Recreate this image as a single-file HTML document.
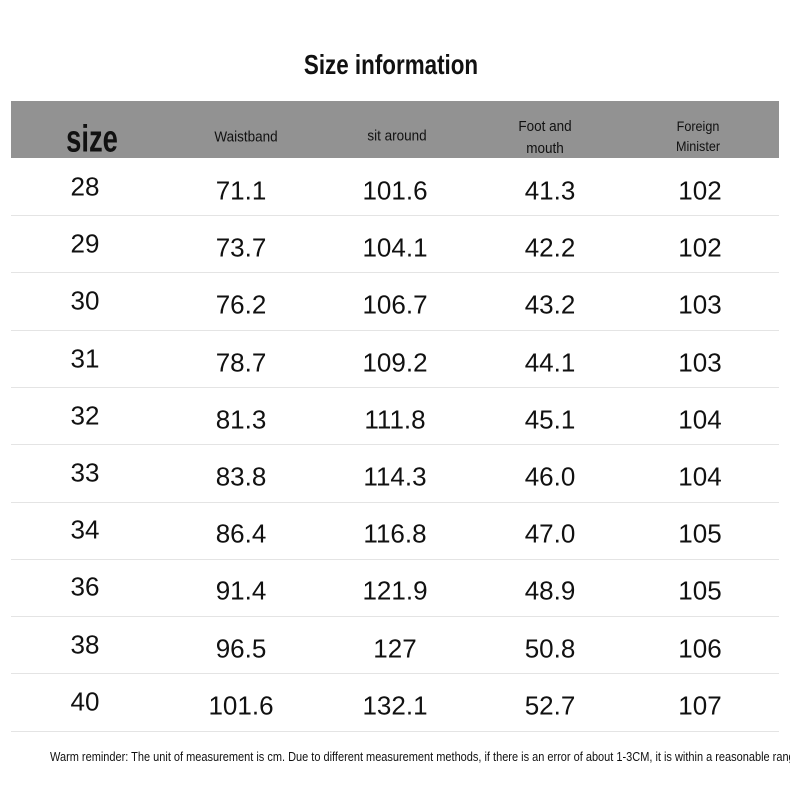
<!DOCTYPE html>
<html><head><style>
body{margin:0;width:790px;height:798px;background:#fff;position:relative;overflow:hidden;font-family:"Liberation Sans",sans-serif;color:#111}
.t{position:absolute;transform:translate(-50%,-50%);white-space:nowrap}
.n{font-size:26px}
.h{font-size:15px}
.l{position:absolute;left:11px;width:768px;height:1px;background:#e4e4e4}
</style></head><body>
<div class="t" style="left:391px;top:65px;font-size:28px;font-weight:bold;transform:translate(-50%,-50%) scaleX(0.8)">Size information</div>
<div style="position:absolute;left:11px;top:101px;width:768px;height:57px;background:#929292"></div>
<div class="t" style="left:92px;top:140px;font-size:38px;font-weight:bold;transform:translate(-50%,-50%) scaleX(0.72)">size</div>
<div class="t h" style="left:246px;top:137px;transform:translate(-50%,-50%) scaleX(0.9)">Waistband</div>
<div class="t h" style="left:397px;top:136px;transform:translate(-50%,-50%) scaleX(0.9)">sit around</div>
<div class="t h" style="left:545px;top:138px;text-align:center;line-height:22px;transform:translate(-50%,-50%) scaleX(0.9)">Foot and<br>mouth</div>
<div class="t" style="left:698px;top:136px;font-size:14px;text-align:center;line-height:20px;transform:translate(-50%,-50%) scaleX(0.9)">Foreign<br>Minister</div>
<div id="rows"></div>
<div style="position:absolute;left:0;top:747px;width:790px;height:22px;overflow:hidden">
<div style="position:absolute;left:50px;top:2px;font-size:13px;white-space:nowrap;transform-origin:0 0;transform:scaleX(0.845)">Warm reminder: The unit of measurement is cm. Due to different measurement methods, if there is an error of about 1-3CM, it is within a reasonable range</div>
</div>
<script>
var d=[["28","71.1","101.6","41.3","102"],["29","73.7","104.1","42.2","102"],["30","76.2","106.7","43.2","103"],["31","78.7","109.2","44.1","103"],["32","81.3","111.8","45.1","104"],["33","83.8","114.3","46.0","104"],["34","86.4","116.8","47.0","105"],["36","91.4","121.9","48.9","105"],["38","96.5","127","50.8","106"],["40","101.6","132.1","52.7","107"]];
var xs=[85,241,395,550,700],h="";
d.forEach(function(r,i){var y=191+i*57.2;r.forEach(function(v,j){h+='<div class="t n" style="left:'+xs[j]+'px;top:'+(j==0?y-4:y)+'px">'+v+'</div>';});h+='<div class="l" style="top:'+Math.round(215+i*57.3)+'px"></div>';});
document.getElementById("rows").innerHTML=h;
</script>
</body></html>
